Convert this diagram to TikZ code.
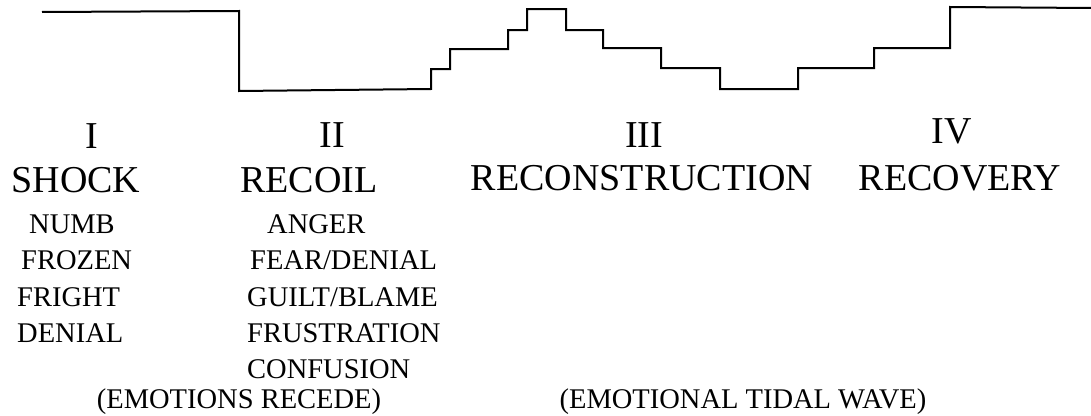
\documentclass[tikz,border=0pt]{standalone}
\usepackage{fontspec}
\setmainfont{Liberation Serif}
\usetikzlibrary{positioning}

\begin{document}
\begin{tikzpicture}[
    x=1pt, y=-1pt,
    head/.style={inner sep=0pt, anchor=base, font=\fontsize{38}{40}\selectfont},
    item/.style={inner sep=0pt, anchor=base west, font=\fontsize{28.5}{30}\selectfont},
    note/.style={inner sep=0pt, anchor=base, font=\fontsize{28.5}{30}\selectfont},
    wave/.style={line width=2pt, line join=miter}
]

    % --- 0. Frame ---
    \useasboundingbox (0,0) rectangle (1091,415);

    % --- 1. Emotional level line ---
    \draw[wave] (42,12) -- (239,11) -- (239,91) -- (431,89)
        -- (431,69) -- (450,69) -- (450,49) -- (508,49) -- (508,30)
        -- (527,30) -- (527,9) -- (566,9) -- (566,30) -- (603,30)
        -- (603,48) -- (661,48) -- (661,68) -- (720,68) -- (720,89)
        -- (798,89) -- (798,68) -- (874,68) -- (874,48) -- (950,48)
        -- (950,7) -- (1092,8);

    % --- 2. Stage headings ---
    \node[head] (num1) at (92,148) {I};
    \node[head] (num2) at (332,147) {II};
    \node[head] (num3) at (644,147) {III};
    \node[head] (num4) at (952,143) {IV};

    \node[head] (shock) at (76,192) {SHOCK};
    \node[head] (recoil) at (309,192) {RECOIL};
    \node[head] (recon) at (642,190) {RECONSTRUCTION};
    \node[head] (recov) at (960,190) {RECOVERY};

    % --- 3. Feelings per stage ---
    \node[item] (numb) at (29,233) {NUMB};
    \node[item] (frozen) at (21,269.5) {FROZEN};
    \node[item] (fright) at (17,306) {FRIGHT};
    \node[item] (denial) at (17,342) {DENIAL};

    \node[item] (anger) at (267,233) {ANGER};
    \node[item] (fear) at (250,269.5) {FEAR/DENIAL};
    \node[item] (guilt) at (247,306) {GUILT/BLAME};
    \node[item] (frust) at (247,342) {FRUSTRATION};
    \node[item] (confus) at (247,378.5) {CONFUSION};

    % --- 4. Footnotes ---
    \node[note] (recede) at (239,408) {(EMOTIONS RECEDE)};
    \node[note] (tidal) at (743,408) {(EMOTIONAL TIDAL WAVE)};

\end{tikzpicture}
\end{document}
